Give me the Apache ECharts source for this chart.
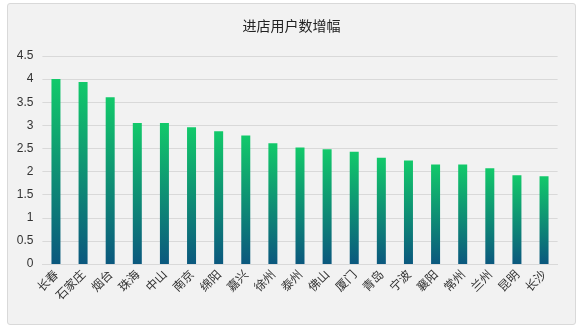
<!DOCTYPE html>
<html>
<head>
<meta charset="utf-8">
<script src="https://cdn.jsdelivr.net/npm/echarts@6/dist/echarts.min.js"></script>
<style>
  html, body { margin: 0; padding: 0; background: #ffffff; }
  #box { position: absolute; left: 7px; top: 3px; width: 567px; height: 320px;
         border: 1px solid #d9d9d9; border-radius: 3px; background: #f2f2f2; }
  #chart { width: 567px; height: 320px; }
</style>
</head>
<body>
<div id="box"><div id="chart"></div></div>
<script>
const titleText = '进店用户数增幅';
const categories = ['长春','石家庄','烟台','珠海','中山','南京','绵阳','嘉兴','徐州','泰州','佛山','厦门','青岛','宁波','襄阳','常州','兰州','昆明','长沙'];
const values = [4.00, 3.94, 3.61, 3.05, 3.05, 2.96, 2.87, 2.78, 2.61, 2.52, 2.48, 2.43, 2.30, 2.24, 2.15, 2.15, 2.07, 1.92, 1.90];
const yTicks = [0, 0.5, 1, 1.5, 2, 2.5, 3, 3.5, 4, 4.5];

const chart = echarts.init(document.getElementById('chart'), null, { renderer: 'canvas' });
chart.setOption({
  backgroundColor: 'transparent',
  animation: false,
  title: {
    text: titleText,
    left: 'center',
    top: 10,
    textStyle: { fontFamily: 'Noto Sans CJK SC', fontSize: 14, fontWeight: 'normal', color: '#222222' }
  },
  grid: { left: 34.4, right: 17.4, top: 52, bottom: 60, containLabel: false },
  xAxis: {
    type: 'category',
    data: categories,
    axisLine: { lineStyle: { color: '#d9d9d9' } },
    axisTick: { show: false },
    axisLabel: {
      rotate: 45, interval: 0, margin: 8,
      fontFamily: 'Noto Sans CJK SC', fontSize: 12, color: '#333333'
    }
  },
  yAxis: {
    type: 'value',
    min: yTicks[0], max: yTicks[yTicks.length - 1], interval: 0.5,
    axisLine: { show: false },
    axisTick: { show: false },
    splitLine: { lineStyle: { color: '#d9d9d9' } },
    axisLabel: { margin: 9, fontFamily: 'Liberation Sans', fontSize: 12, color: '#333333' }
  },
  series: [{
    type: 'bar',
    data: values,
    barWidth: 9,
    itemStyle: {
      color: new echarts.graphic.LinearGradient(0, 0, 0, 1, [
        { offset: 0, color: '#12c96a' },
        { offset: 1, color: '#0b587e' }
      ])
    }
  }]
});
</script>
</body>
</html>
